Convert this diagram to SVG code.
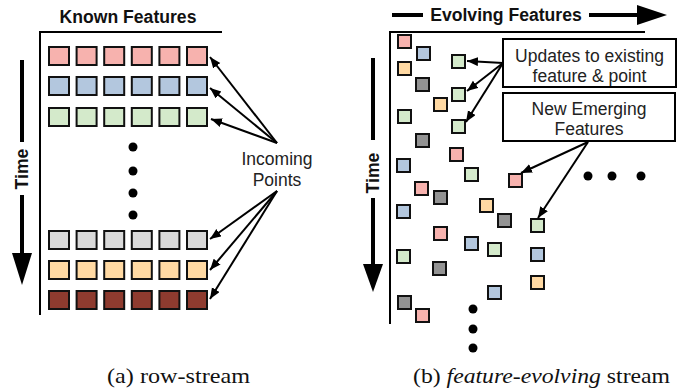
<svg xmlns="http://www.w3.org/2000/svg" width="684" height="389" viewBox="0 0 684 389">
<style>
.ttl{font-family:"Liberation Sans",Arial,sans-serif;font-weight:bold;font-size:17.6px;fill:#111}
.lbl{font-family:"Liberation Sans",Arial,sans-serif;font-size:17.5px;fill:#222}
.cap{font-family:"Liberation Serif","Times New Roman",serif;font-size:22px;fill:#111}
.frame{stroke:#000;stroke-width:2;fill:none}
.thick{stroke:#000;stroke-width:4;fill:none}
.sq{stroke:#111;stroke-width:2}
.box{fill:#fff;stroke:#000;stroke-width:2}
.arr{stroke:#000;stroke-width:2;fill:none;marker-end:url(#ah)}
.p{fill:#F7B2AE}.b{fill:#B3C7DE}.g{fill:#D4EACB}.l{fill:#D9D9D9}.o{fill:#FFD9A3}.r{fill:#8E3B2F}.k{fill:#939393}
</style>
<defs>
<marker id="ah" markerUnits="userSpaceOnUse" markerWidth="12" markerHeight="10" refX="11" refY="4.5" orient="auto">
<path d="M0,0 L11,4.5 L0,9 z" fill="#000"/>
</marker>
</defs>

<!-- Left panel -->
<g id="left-axes">
<text class="ttl" x="128" y="23" text-anchor="middle">Known Features</text>
<polyline class="frame" points="222,32 40,32 40,315"/>
<line class="thick" x1="22" y1="60" x2="22" y2="142"/>
<text class="ttl" transform="translate(28,169) rotate(-90)" text-anchor="middle">Time</text>
<line class="thick" x1="22" y1="195" x2="22" y2="256"/>
<polygon points="12,253 32,253 22,285" fill="#000"/>
</g>

<g id="left-rows">
<g id="row1" class="p">
<rect class="sq" x="49" y="47" width="20" height="18"/><rect class="sq" x="76.6" y="47" width="20" height="18"/><rect class="sq" x="104.2" y="47" width="20" height="18"/><rect class="sq" x="131.8" y="47" width="20" height="18"/><rect class="sq" x="159.4" y="47" width="20" height="18"/><rect class="sq" x="187" y="47" width="20" height="18"/>
</g>
<g id="row2" class="b">
<rect class="sq" x="49" y="77" width="20" height="18"/><rect class="sq" x="76.6" y="77" width="20" height="18"/><rect class="sq" x="104.2" y="77" width="20" height="18"/><rect class="sq" x="131.8" y="77" width="20" height="18"/><rect class="sq" x="159.4" y="77" width="20" height="18"/><rect class="sq" x="187" y="77" width="20" height="18"/>
</g>
<g id="row3" class="g">
<rect class="sq" x="49" y="108" width="20" height="18"/><rect class="sq" x="76.6" y="108" width="20" height="18"/><rect class="sq" x="104.2" y="108" width="20" height="18"/><rect class="sq" x="131.8" y="108" width="20" height="18"/><rect class="sq" x="159.4" y="108" width="20" height="18"/><rect class="sq" x="187" y="108" width="20" height="18"/>
</g>
<g id="row4" class="l">
<rect class="sq" x="49" y="231" width="20" height="18"/><rect class="sq" x="76.6" y="231" width="20" height="18"/><rect class="sq" x="104.2" y="231" width="20" height="18"/><rect class="sq" x="131.8" y="231" width="20" height="18"/><rect class="sq" x="159.4" y="231" width="20" height="18"/><rect class="sq" x="187" y="231" width="20" height="18"/>
</g>
<g id="row5" class="o">
<rect class="sq" x="49" y="261" width="20" height="18"/><rect class="sq" x="76.6" y="261" width="20" height="18"/><rect class="sq" x="104.2" y="261" width="20" height="18"/><rect class="sq" x="131.8" y="261" width="20" height="18"/><rect class="sq" x="159.4" y="261" width="20" height="18"/><rect class="sq" x="187" y="261" width="20" height="18"/>
</g>
<g id="row6" class="r">
<rect class="sq" x="49" y="291" width="20" height="18"/><rect class="sq" x="76.6" y="291" width="20" height="18"/><rect class="sq" x="104.2" y="291" width="20" height="18"/><rect class="sq" x="131.8" y="291" width="20" height="18"/><rect class="sq" x="159.4" y="291" width="20" height="18"/><rect class="sq" x="187" y="291" width="20" height="18"/>
</g>
<g id="left-dots" fill="#000">
<circle cx="133" cy="147" r="4.5"/><circle cx="133" cy="171" r="4.5"/><circle cx="133" cy="193" r="4.5"/><circle cx="133" cy="215" r="4.5"/>
</g>
</g>

<g id="incoming-points">
<text class="lbl" x="277" y="165" text-anchor="middle">Incoming</text>
<text class="lbl" x="277" y="186" text-anchor="middle">Points</text>
</g>

<!-- Right panel -->
<g id="right-axes">
<line class="thick" x1="392" y1="15" x2="423" y2="15"/>
<text class="ttl" x="506" y="21" text-anchor="middle">Evolving Features</text>
<line class="thick" x1="589" y1="15" x2="640" y2="15"/>
<polygon points="637,5 637,25 667,15" fill="#000"/>
<polyline class="frame" points="645,32 390,32 390,324"/>
<line class="thick" x1="373" y1="58" x2="373" y2="140"/>
<text class="ttl" transform="translate(379,173) rotate(-90)" text-anchor="middle">Time</text>
<line class="thick" x1="373" y1="198" x2="373" y2="267"/>
<polygon points="363,264 383,264 373,292" fill="#000"/>
</g>

<g id="right-points">
<rect class="sq p" x="398" y="35" width="13" height="13"/>
<rect class="sq b" x="417" y="47" width="13" height="13"/>
<rect class="sq o" x="398" y="62" width="13" height="13"/>
<rect class="sq k" x="416" y="78" width="13" height="13"/>
<rect class="sq o" x="434" y="98" width="13" height="13"/>
<rect class="sq g" x="398" y="110" width="13" height="13"/>
<rect class="sq k" x="416" y="134" width="13" height="13"/>
<rect class="sq g" x="452" y="55" width="13" height="13"/>
<rect class="sq g" x="452" y="88" width="13" height="13"/>
<rect class="sq g" x="452" y="120" width="13" height="13"/>
<rect class="sq p" x="450" y="148" width="13" height="13"/>
<rect class="sq b" x="397" y="159" width="13" height="13"/>
<rect class="sq g" x="465" y="168" width="13" height="13"/>
<rect class="sq p" x="509" y="174" width="13" height="13"/>
<rect class="sq p" x="415" y="182" width="13" height="13"/>
<rect class="sq k" x="434" y="191" width="13" height="13"/>
<rect class="sq b" x="397" y="205" width="13" height="13"/>
<rect class="sq o" x="480" y="199" width="13" height="13"/>
<rect class="sq k" x="498" y="214" width="13" height="13"/>
<rect class="sq g" x="531" y="219" width="13" height="13"/>
<rect class="sq p" x="434" y="227" width="13" height="13"/>
<rect class="sq b" x="465" y="237" width="13" height="13"/>
<rect class="sq g" x="488" y="243" width="13" height="13"/>
<rect class="sq b" x="531" y="248" width="13" height="13"/>
<rect class="sq g" x="397" y="250" width="13" height="13"/>
<rect class="sq k" x="433" y="262" width="13" height="13"/>
<rect class="sq o" x="531" y="276" width="13" height="13"/>
<rect class="sq b" x="488" y="286" width="13" height="13"/>
<rect class="sq k" x="398" y="296" width="13" height="13"/>
<rect class="sq p" x="416" y="309" width="13" height="13"/>
</g>
<g id="right-dots" fill="#000">
<circle cx="473" cy="309" r="4.5"/><circle cx="473" cy="329" r="4.5"/><circle cx="473" cy="348" r="4.5"/>
<circle cx="588" cy="176" r="4.5"/><circle cx="612" cy="176" r="4.5"/><circle cx="641" cy="176" r="4.5"/>
</g>

<g id="box-updates">
<rect class="box" x="503" y="39" width="173" height="48"/>
<text class="lbl" x="589.5" y="62" text-anchor="middle">Updates to existing</text>
<text class="lbl" x="589.5" y="82" text-anchor="middle">feature &amp; point</text>
</g>
<g id="box-new">
<rect class="box" x="503" y="93" width="172" height="48"/>
<text class="lbl" x="589" y="115" text-anchor="middle">New Emerging</text>
<text class="lbl" x="589" y="135" text-anchor="middle">Features</text>
</g>

<g id="connectors">
<line class="arr" x1="277" y1="143" x2="210" y2="57"/>
<line class="arr" x1="277" y1="143" x2="210" y2="88"/>
<line class="arr" x1="277" y1="143" x2="211" y2="119"/>
<line class="arr" x1="277" y1="191" x2="210" y2="239"/>
<line class="arr" x1="277" y1="191" x2="210" y2="270"/>
<line class="arr" x1="277" y1="191" x2="210" y2="299"/>
<line class="arr" x1="503" y1="63" x2="467" y2="61"/>
<line class="arr" x1="503" y1="63" x2="467" y2="91"/>
<line class="arr" x1="503" y1="63" x2="466" y2="122"/>
<line class="arr" x1="588" y1="142" x2="521" y2="173"/>
<line class="arr" x1="588" y1="142" x2="538" y2="218"/>
</g>

<g id="captions">
<text class="cap" x="178.5" y="383" text-anchor="middle" textLength="143" lengthAdjust="spacingAndGlyphs">(a) row-stream</text>
<text class="cap" x="541.5" y="383" text-anchor="middle" textLength="257" lengthAdjust="spacingAndGlyphs">(b) <tspan font-style="italic">feature-evolving</tspan> stream</text>
</g>
</svg>
